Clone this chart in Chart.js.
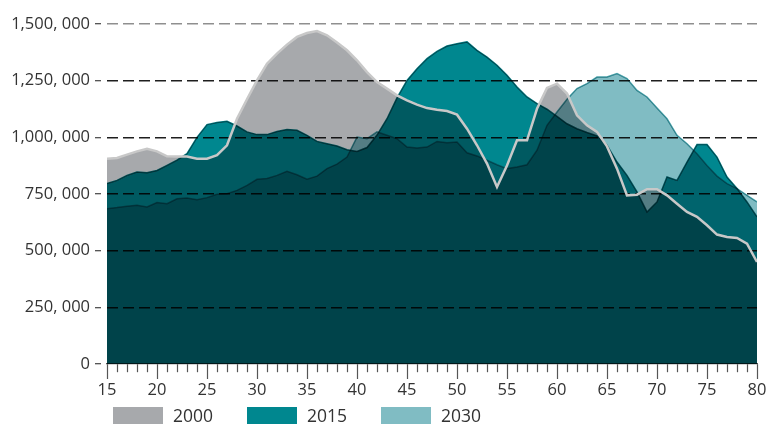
<!DOCTYPE html>
<html lang="en">
<head>
    <title>Population by age</title>
    <script src="https://cdn.jsdelivr.net/npm/chart.js"></script>
    <style>
        body { margin: 0; background: #fff; }
        .wrap { position: relative; width: 781px; height: 424px; overflow: hidden; }
        #ageChart { position: absolute; left: 0; top: 0; }
        .legend { font-family: 'Open Sans', sans-serif; font-size: 17.5px; color: #333; }
        .key { position: absolute; top: 407px; width: 50px; height: 20px; }
        .lab { position: absolute; top: 403px; line-height: 24px; }
    </style>
</head>
<body>
    <div class="wrap">
        <canvas id="ageChart" width="781" height="424"></canvas>

        <!-- Legend -->
        <div class="legend">
            <div class="key" style="left:113px; background:#a7a9ac"></div>
            <div class="lab" style="left:173px">2000</div>
            <div class="key" style="left:247px; background:#00878f"></div>
            <div class="lab" style="left:307px">2015</div>
            <div class="key" style="left:381px; background:#80bcc3"></div>
            <div class="lab" style="left:441px">2030</div>
        </div>
    </div>

    <script>
        // ages on the x axis
        const ages = [15, 16, 17, 18, 19, 20, 21, 22, 23, 24, 25, 26, 27, 28, 29, 30, 31, 32, 33, 34,
            35, 36, 37, 38, 39, 40, 41, 42, 43, 44, 45, 46, 47, 48, 49, 50, 51, 52, 53, 54,
            55, 56, 57, 58, 59, 60, 61, 62, 63, 64, 65, 66, 67, 68, 69, 70, 71, 72, 73, 74,
            75, 76, 77, 78, 79, 80];

        // people per age, in thousands
        const pop2000 = [906, 909, 924, 938, 949, 938, 916, 915, 915, 906, 906, 921, 965, 1082, 1168, 1251, 1325, 1369, 1409, 1443,
            1460, 1469, 1450, 1418, 1384, 1340, 1288, 1244, 1215, 1185, 1163, 1144, 1129, 1122, 1116, 1100, 1038, 965, 884, 781,
            876, 987, 987, 1126, 1218, 1237, 1193, 1097, 1053, 1024, 960, 862, 744, 747, 771, 771, 744, 707, 671, 649,
            612, 571, 560, 556, 531, 450];
        const pop2015 = [796, 810, 832, 847, 844, 854, 876, 899, 928, 1000, 1056, 1065, 1071, 1050, 1024, 1012, 1012, 1026, 1035, 1031,
            1009, 982, 972, 962, 945, 938, 955, 1010, 1082, 1174, 1251, 1303, 1347, 1379, 1403, 1413, 1421, 1384, 1354, 1318,
            1274, 1222, 1178, 1149, 1124, 1092, 1060, 1038, 1021, 1006, 965, 891, 832, 759, 671, 715, 825, 810, 891, 968,
            968, 913, 825, 774, 715, 649];
        const pop2030 = [685, 690, 696, 700, 693, 712, 707, 729, 732, 725, 734, 749, 751, 766, 788, 815, 818, 832, 850, 835,
            815, 829, 862, 882, 913, 1001, 994, 1024, 1009, 994, 957, 953, 957, 982, 976, 979, 932, 918, 899, 879,
            862, 869, 879, 943, 1053, 1112, 1168, 1215, 1237, 1266, 1266, 1281, 1259, 1207, 1178, 1129, 1082, 1009, 972, 928,
            876, 829, 796, 774, 744, 715];

        const yTickLabels = ['0', '250, 000', '500, 000', '750, 000', '1,000, 000', '1,250, 000', '1,500, 000'];

        function points(values) {
            return ages.map((a, i) => ({ x: a, y: values[i] * 1000 }));
        }

        // areas are blended with multiply so the overlaps get darker,
        // the 2000 outline is painted normally on top
        const multiplyAreas = {
            id: 'multiplyAreas',
            beforeDatasetsDraw(chart) {
                chart.ctx.save();
                chart.ctx.globalCompositeOperation = 'multiply';
            },
            beforeDatasetDraw(chart, args) {
                if (chart.data.datasets[args.index].fill === false) {
                    chart.ctx.globalCompositeOperation = 'source-over';
                }
            },
            afterDatasetsDraw(chart) {
                chart.ctx.restore();
            }
        };

        const ctx = document.getElementById('ageChart').getContext('2d');
        new Chart(ctx, {
            type: 'line',
            data: {
                datasets: [
                    {
                        label: '2000',
                        data: points(pop2000),
                        backgroundColor: '#a7a9ac',
                        borderWidth: 0,
                        fill: 'origin'
                    },
                    {
                        label: '2015',
                        data: points(pop2015),
                        backgroundColor: '#00878f',
                        borderColor: '#00747b',
                        borderWidth: 1.5,
                        fill: 'origin'
                    },
                    {
                        label: '2030',
                        data: points(pop2030),
                        backgroundColor: '#80bcc3',
                        borderColor: '#4aa2aa',
                        borderWidth: 1.5,
                        fill: 'origin'
                    },
                    {
                        label: '2000 outline',
                        data: points(pop2000),
                        borderColor: '#c8c8c8',
                        borderWidth: 2.5,
                        fill: false,
                        order: -1
                    }
                ]
            },
            options: {
                responsive: false,
                animation: false,
                layout: { padding: { top: 24, right: 24, bottom: 20, left: 0 } },
                elements: { point: { radius: 0 }, line: { tension: 0 } },
                plugins: {
                    legend: { display: false },
                    tooltip: { enabled: false }
                },
                scales: {
                    x: {
                        type: 'linear',
                        min: 15,
                        max: 80,
                        z: 1,
                        afterFit: s => { s.height = 40; },
                        ticks: {
                            stepSize: 1,
                            autoSkip: false,
                            maxRotation: 0,
                            padding: 1,
                            color: '#333',
                            font: { family: 'Open Sans', size: 16.5 },
                            callback: v => (v % 5 === 0 ? v : '')
                        },
                        grid: {
                            drawOnChartArea: false,
                            tickLength: 15,
                            tickColor: '#555',
                            tickWidth: 1.2,
                            tickBorderDash: c => (c.tick && c.tick.value % 5 === 0 ? [] : [8, 30])
                        },
                        border: { display: true, color: '#555', width: 1.2 }
                    },
                    y: {
                        min: 0,
                        max: 1500000,
                        z: 1,
                        afterFit: s => { s.width = 107; },
                        ticks: {
                            stepSize: 250000,
                            padding: 5,
                            color: '#333',
                            font: { family: 'Open Sans', size: 16.5 },
                            callback: (v, i) => yTickLabels[i]
                        },
                        grid: {
                            color: c => {
                                if (c.tick.value === 1500000) return '#8f8f8f';
                                if (c.tick.value === 0) return 'rgba(0,0,0,0)';
                                return '#1e1e1e';
                            },
                            lineWidth: 1.4,
                            tickLength: 12,
                            tickColor: '#444',
                            tickWidth: 1.2,
                            tickBorderDash: [6, 6]
                        },
                        border: { display: false, dash: [11, 5] }
                    }
                }
            },
            plugins: [multiplyAreas]
        });
    </script>
</body>
</html>
